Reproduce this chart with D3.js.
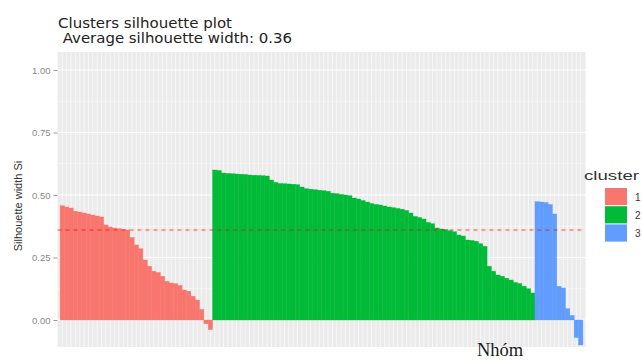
<!DOCTYPE html>
<html>
<head>
<meta charset="utf-8">
<script src="https://cdn.jsdelivr.net/npm/d3@7/dist/d3.min.js"></script>
<style>
  html, body { margin: 0; padding: 0; background: #fff; }
  svg { display: block; }
</style>
</head>
<body>
<svg id="chart" width="642" height="361"></svg>
<script>
// Silhouette widths per observation, already sorted within each cluster
const clusterNames = ["1", "2", "3"];
const clusterColors = ["#F8766D", "#00BA38", "#619CFF"];

const cluster1 = [
  0.457, 0.452, 0.448, 0.435, 0.432, 0.428, 0.424, 0.420, 0.416, 0.412,
  0.380, 0.372, 0.368, 0.365, 0.362, 0.360, 0.330, 0.300, 0.285, 0.240,
  0.215, 0.195, 0.190, 0.175, 0.155, 0.148, 0.145, 0.138, 0.120, 0.115,
  0.095, 0.080, 0.042, -0.015, -0.038
];

const cluster2 = [
  0.600, 0.598, 0.588, 0.586, 0.585, 0.584, 0.583, 0.582, 0.580, 0.579,
  0.578, 0.577, 0.576, 0.560, 0.550, 0.546, 0.545, 0.544, 0.543, 0.541,
  0.532, 0.525, 0.523, 0.521, 0.519, 0.517, 0.515, 0.507, 0.505, 0.502,
  0.500, 0.497, 0.488, 0.484, 0.478, 0.472, 0.466, 0.462, 0.460, 0.456,
  0.452, 0.449, 0.446, 0.443, 0.438, 0.428, 0.414, 0.410, 0.404, 0.390,
  0.385, 0.368, 0.364, 0.361, 0.357, 0.353, 0.340, 0.336, 0.320, 0.318,
  0.315, 0.305, 0.295, 0.215, 0.195, 0.180, 0.175, 0.167, 0.160, 0.150,
  0.146, 0.135, 0.125, 0.108
];

const cluster3 = [
  0.473, 0.472, 0.470, 0.462, 0.424, 0.135, 0.128, 0.045, 0.018, -0.070, -0.100
];

const yTicks = [0, 0.25, 0.5, 0.75, 1.0];
const yMinor = [0.125, 0.375, 0.625, 0.875];
const avgWidth = 0.36;

const titleLine1 = "Clusters silhouette plot";
const titleLine2 = " Average silhouette width: 0.36";
const yLabel = "Silhouette width Si";
const legendTitle = "cluster";
const footNote = "Nhóm";

// Flatten into one ordered list of observations
const rows = [];
[cluster1, cluster2, cluster3].forEach((vals, ci) => {
  vals.forEach(v => rows.push({ id: rows.length, cluster: ci, value: v }));
});

const svg = d3.select("#chart");

const panel = { left: 57.5, right: 585.5, top: 52, bottom: 347 };

const x = d3.scaleBand()
  .domain(rows.map(d => d.id))
  .range([panel.left, panel.right])
  .paddingInner(0)
  .paddingOuter(0.6);

const y = d3.scaleLinear()
  .domain([-0.108, 1.072])
  .range([panel.bottom, panel.top]);

// Panel background
svg.append("rect")
  .attr("x", panel.left).attr("y", panel.top)
  .attr("width", panel.right - panel.left)
  .attr("height", panel.bottom - panel.top)
  .attr("fill", "#EBEBEB");

// Grid: minor then major horizontals, one vertical per observation
const grid = svg.append("g");
grid.selectAll("line.minor").data(yMinor).join("line")
  .attr("x1", panel.left).attr("x2", panel.right)
  .attr("y1", d => y(d)).attr("y2", d => y(d))
  .attr("stroke", "#fff").attr("stroke-width", 0.5);
grid.selectAll("line.major").data(yTicks).join("line")
  .attr("x1", panel.left).attr("x2", panel.right)
  .attr("y1", d => y(d)).attr("y2", d => y(d))
  .attr("stroke", "#fff").attr("stroke-width", 1);
grid.selectAll("line.vx").data(rows).join("line")
  .attr("x1", d => x(d.id) + x.bandwidth() / 2)
  .attr("x2", d => x(d.id) + x.bandwidth() / 2)
  .attr("y1", panel.top).attr("y2", panel.bottom)
  .attr("stroke", "#fff").attr("stroke-width", 0.6);

// Bars
svg.append("g").selectAll("rect").data(rows).join("rect")
  .attr("x", d => x(d.id))
  .attr("width", x.bandwidth())
  .attr("y", d => y(Math.max(0, d.value)))
  .attr("height", d => Math.abs(y(d.value) - y(0)))
  .attr("fill", d => clusterColors[d.cluster])
  .attr("stroke", d => clusterColors[d.cluster])
  .attr("stroke-width", 0.4);

// Average silhouette width reference line
svg.append("line")
  .attr("x1", panel.left).attr("x2", panel.right)
  .attr("y1", y(avgWidth)).attr("y2", y(avgWidth))
  .attr("stroke", "#FF0000")
  .attr("stroke-opacity", 0.7)
  .attr("stroke-width", 1)
  .attr("stroke-dasharray", "4,4");

// Y axis
const yAxis = svg.append("g")
  .attr("transform", `translate(${panel.left},0)`)
  .call(d3.axisLeft(y).tickValues(yTicks).tickFormat(d3.format(".2f")).tickSize(4).tickPadding(3));
yAxis.select(".domain").remove();
yAxis.selectAll(".tick line").attr("stroke", "#9a9a9a");
yAxis.selectAll(".tick text")
  .attr("fill", "#8a8a8a")
  .style("font-family", "Liberation Sans, Arial, sans-serif")
  .style("font-size", "9.5px");

// Y axis title
svg.append("text")
  .attr("transform", "translate(22,206) rotate(-90)")
  .attr("text-anchor", "middle")
  .attr("fill", "#333")
  .style("font-family", "Liberation Sans, Arial, sans-serif")
  .style("font-size", "11px")
  .text(yLabel);

// Titles
svg.append("text")
  .attr("x", 58).attr("y", 28)
  .attr("fill", "#222")
  .attr("textLength", 174).attr("lengthAdjust", "spacingAndGlyphs")
  .style("font-family", "DejaVu Sans, sans-serif")
  .style("font-size", "13.5px")
  .style("font-weight", "500")
  .text(titleLine1);
svg.append("text")
  .attr("x", 58).attr("y", 43)
  .attr("fill", "#222")
  .attr("textLength", 234).attr("lengthAdjust", "spacingAndGlyphs")
  .attr("xml:space", "preserve")
  .style("white-space", "pre")
  .style("font-family", "DejaVu Sans, sans-serif")
  .style("font-size", "13.5px")
  .style("font-weight", "500")
  .text(titleLine2);

// Legend
const legend = svg.append("g").attr("transform", "translate(584,0)");
legend.append("text")
  .attr("x", 0).attr("y", 180)
  .attr("fill", "#333")
  .attr("textLength", 55).attr("lengthAdjust", "spacingAndGlyphs")
  .style("font-family", "Liberation Sans, Arial, sans-serif")
  .style("font-size", "13.5px")
  .text(legendTitle);
const keys = legend.selectAll("g.key").data(clusterNames).join("g")
  .attr("transform", (d, i) => `translate(21,${188 + i * 18.2})`);
keys.append("rect")
  .attr("width", 22).attr("height", 17.2)
  .attr("fill", (d, i) => clusterColors[i]);
keys.append("text")
  .attr("x", 30).attr("y", 12.5)
  .attr("fill", "#333")
  .style("font-family", "Liberation Sans, Arial, sans-serif")
  .style("font-size", "10px")
  .text(d => d);

// Bottom annotation
svg.append("text")
  .attr("x", 477).attr("y", 356)
  .attr("fill", "#1a1a1a")
  .style("font-family", "Liberation Serif, Times New Roman, serif")
  .style("font-size", "18.5px")
  .text(footNote);
</script>
</body>
</html>
